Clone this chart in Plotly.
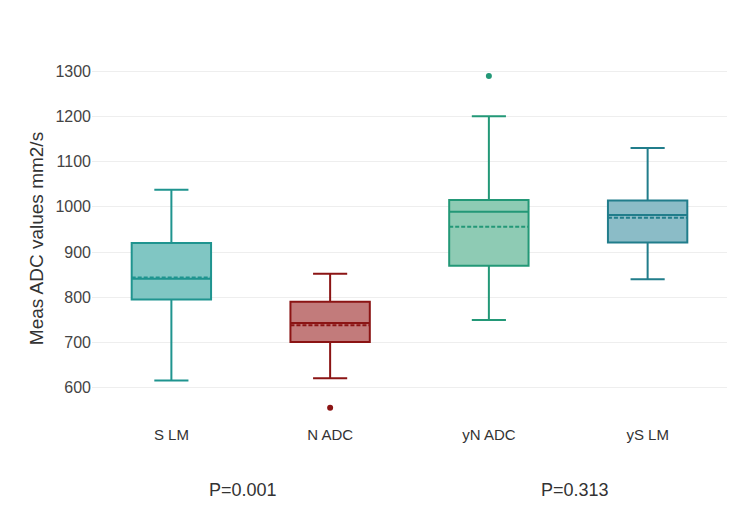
import plotly.graph_objects as go

# Box statistics (ADC values, mm2/s)
groups = ["S LM", "N ADC", "yN ADC", "yS LM"]
lower_whisker = [616, 621, 750, 840]
q1 = [795, 701, 870, 921]
median = [841, 743, 989, 982]
q3 = [920, 790, 1015, 1014]
upper_whisker = [1038, 852, 1200, 1130]
mean = [844, 738, 956, 976]

outlier_groups = ["N ADC", "yN ADC"]
outlier_values = [556, 1289]

line_colors = ["#1f948f", "#8b1414", "#239877", "#217d8b"]
fill_colors = ["#80c6c3", "#c27b7b", "#8ecbb4", "#8bbcc7"]

p_labels = ["P=0.001", "P=0.313"]
p_positions = [0.45, 2.54]  # in category units, between the compared boxes


def create_plot():
    fig = go.Figure()

    for i, name in enumerate(groups):
        fig.add_trace(
            go.Box(
                x=[name],
                name=name,
                q1=[q1[i]],
                median=[median[i]],
                q3=[q3[i]],
                lowerfence=[lower_whisker[i]],
                upperfence=[upper_whisker[i]],
                mean=[mean[i]],
                boxmean=True,
                boxpoints=False,
                width=0.5,
                whiskerwidth=0.43,
                line=dict(color=line_colors[i], width=2),
                fillcolor=fill_colors[i],
                showlegend=False,
            )
        )

    # outliers drawn as plain markers
    for name, value in zip(outlier_groups, outlier_values):
        i = groups.index(name)
        fig.add_trace(
            go.Scatter(
                x=[name],
                y=[value],
                mode="markers",
                marker=dict(color=line_colors[i], size=6),
                showlegend=False,
            )
        )

    for label, xpos in zip(p_labels, p_positions):
        fig.add_annotation(
            text=label,
            x=xpos,
            y=-0.178,
            xref="x",
            yref="paper",
            xanchor="center",
            yanchor="middle",
            showarrow=False,
            font=dict(size=18, color="#333333"),
        )

    fig.update_layout(
        width=750,
        height=519,
        margin=dict(l=84, r=31, t=45, b=103),
        plot_bgcolor="white",
        paper_bgcolor="white",
        font=dict(family="Liberation Sans, Arial, sans-serif", color="#444444"),
        xaxis=dict(
            categoryorder="array",
            categoryarray=groups,
            range=[-0.5, 3.5],
            showgrid=False,
            showline=False,
            tickfont=dict(size=15, color="#333333"),
        ),
        yaxis=dict(
            title=dict(
                text="Meas ADC values mm2/s",
                font=dict(size=19, color="#333333"),
                standoff=6,
            ),
            range=[520, 1340],
            tickvals=[600, 700, 800, 900, 1000, 1100, 1200, 1300],
            gridcolor="#eeeeee",
            zeroline=False,
            showline=False,
            automargin=False,
            tickfont=dict(size=16, color="#444444"),
        ),
    )

    fig.write_html("out.html")


if __name__ == "__main__":
    create_plot()
